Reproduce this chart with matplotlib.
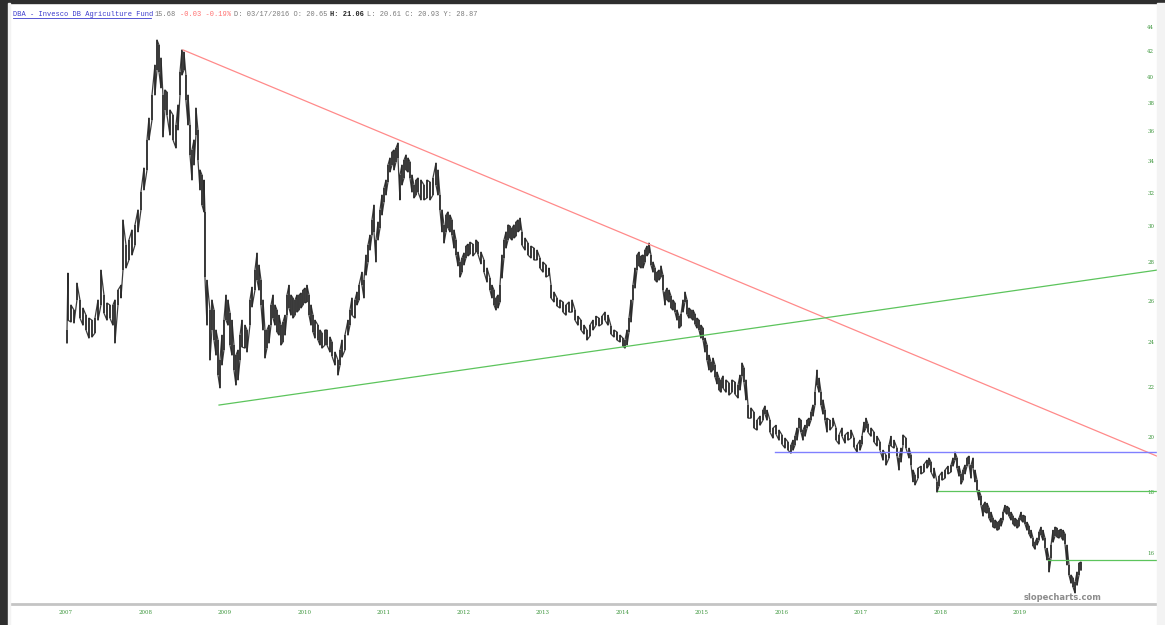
import matplotlib
matplotlib.use("Agg")
import matplotlib.pyplot as plt
from matplotlib.patches import Rectangle
from matplotlib.lines import Line2D
from matplotlib.ticker import FixedLocator, NullLocator, FixedFormatter

# DBA price history (decimal year, bar high, bar low)
dates = [
    2007.013, 2007.025, 2007.063, 2007.101, 2007.138, 2007.176, 2007.214, 2007.252, 2007.289, 2007.327,
    2007.365, 2007.403, 2007.440, 2007.478, 2007.516, 2007.553, 2007.591, 2007.616, 2007.654, 2007.692,
    2007.717, 2007.755, 2007.792, 2007.830, 2007.868, 2007.906, 2007.943, 2007.981, 2008.019, 2008.044,
    2008.082, 2008.119, 2008.145, 2008.170, 2008.195, 2008.220, 2008.245, 2008.270, 2008.308, 2008.346,
    2008.384, 2008.409, 2008.434, 2008.459, 2008.484, 2008.509, 2008.535, 2008.560, 2008.585, 2008.610,
    2008.635, 2008.660, 2008.686, 2008.711, 2008.736, 2008.748, 2008.774, 2008.811, 2008.836, 2008.862,
    2008.887, 2008.912, 2008.937, 2008.962, 2008.987, 2009.013, 2009.038, 2009.063, 2009.088, 2009.113,
    2009.138, 2009.164, 2009.189, 2009.214, 2009.252, 2009.277, 2009.314, 2009.340, 2009.377, 2009.403,
    2009.428, 2009.453, 2009.478, 2009.503, 2009.528, 2009.553, 2009.579, 2009.604, 2009.629, 2009.654,
    2009.679, 2009.704, 2009.730, 2009.755, 2009.780, 2009.805, 2009.830, 2009.855, 2009.881, 2009.906,
    2009.931, 2009.956, 2009.981, 2010.006, 2010.031, 2010.057, 2010.082, 2010.107, 2010.132, 2010.170,
    2010.195, 2010.220, 2010.258, 2010.283, 2010.321, 2010.346, 2010.384, 2010.421, 2010.447, 2010.472,
    2010.509, 2010.547, 2010.572, 2010.597, 2010.635, 2010.660, 2010.686, 2010.723, 2010.748, 2010.774,
    2010.799, 2010.824, 2010.849, 2010.874, 2010.899, 2010.925, 2010.950, 2010.975, 2011.000, 2011.025,
    2011.050, 2011.075, 2011.101, 2011.126, 2011.151, 2011.176, 2011.201, 2011.226, 2011.252, 2011.277,
    2011.302, 2011.327, 2011.352, 2011.377, 2011.403, 2011.428, 2011.465, 2011.503, 2011.541, 2011.579,
    2011.616, 2011.654, 2011.679, 2011.704, 2011.730, 2011.755, 2011.780, 2011.805, 2011.830, 2011.855,
    2011.881, 2011.906, 2011.931, 2011.956, 2011.981, 2012.006, 2012.031, 2012.057, 2012.082, 2012.119,
    2012.157, 2012.182, 2012.220, 2012.258, 2012.296, 2012.333, 2012.358, 2012.384, 2012.409, 2012.434,
    2012.459, 2012.484, 2012.509, 2012.535, 2012.560, 2012.585, 2012.610, 2012.635, 2012.660, 2012.686,
    2012.711, 2012.736, 2012.774, 2012.811, 2012.849, 2012.887, 2012.925, 2012.962, 2013.000, 2013.038,
    2013.075, 2013.101, 2013.138, 2013.176, 2013.214, 2013.252, 2013.289, 2013.327, 2013.365, 2013.403,
    2013.440, 2013.478, 2013.516, 2013.553, 2013.591, 2013.629, 2013.667, 2013.704, 2013.742, 2013.780,
    2013.818, 2013.855, 2013.893, 2013.931, 2013.969, 2014.006, 2014.031, 2014.057, 2014.082, 2014.107,
    2014.132, 2014.157, 2014.182, 2014.208, 2014.233, 2014.258, 2014.283, 2014.308, 2014.333, 2014.358,
    2014.384, 2014.409, 2014.434, 2014.459, 2014.484, 2014.509, 2014.535, 2014.560, 2014.585, 2014.610,
    2014.635, 2014.660, 2014.686, 2014.711, 2014.736, 2014.761, 2014.786, 2014.811, 2014.836, 2014.862,
    2014.887, 2014.912, 2014.937, 2014.962, 2014.987, 2015.013, 2015.038, 2015.063, 2015.088, 2015.113,
    2015.138, 2015.164, 2015.189, 2015.214, 2015.239, 2015.264, 2015.302, 2015.340, 2015.377, 2015.415,
    2015.453, 2015.478, 2015.503, 2015.528, 2015.553, 2015.579, 2015.616, 2015.654, 2015.692, 2015.730,
    2015.767, 2015.792, 2015.818, 2015.855, 2015.893, 2015.931, 2015.969, 2016.006, 2016.044, 2016.082,
    2016.119, 2016.145, 2016.170, 2016.195, 2016.220, 2016.245, 2016.270, 2016.296, 2016.321, 2016.346,
    2016.371, 2016.396, 2016.421, 2016.447, 2016.472, 2016.497, 2016.522, 2016.547, 2016.572, 2016.610,
    2016.648, 2016.686, 2016.723, 2016.761, 2016.799, 2016.836, 2016.874, 2016.912, 2016.950, 2016.987,
    2017.013, 2017.038, 2017.063, 2017.088, 2017.126, 2017.164, 2017.201, 2017.239, 2017.277, 2017.314,
    2017.352, 2017.377, 2017.415, 2017.453, 2017.478, 2017.503, 2017.528, 2017.566, 2017.604, 2017.629,
    2017.654, 2017.679, 2017.717, 2017.755, 2017.792, 2017.830, 2017.855, 2017.881, 2017.918, 2017.956,
    2017.981, 2018.019, 2018.057, 2018.094, 2018.132, 2018.157, 2018.182, 2018.208, 2018.233, 2018.258,
    2018.283, 2018.308, 2018.333, 2018.358, 2018.384, 2018.409, 2018.434, 2018.459, 2018.484, 2018.509,
    2018.535, 2018.560, 2018.585, 2018.610, 2018.635, 2018.660, 2018.686, 2018.711, 2018.736, 2018.761,
    2018.786, 2018.811, 2018.836, 2018.862, 2018.887, 2018.912, 2018.937, 2018.962, 2018.987, 2019.013,
    2019.038, 2019.063, 2019.088, 2019.113, 2019.138, 2019.164, 2019.189, 2019.214, 2019.239, 2019.264,
    2019.289, 2019.314, 2019.340, 2019.365, 2019.390, 2019.415, 2019.440, 2019.465, 2019.491, 2019.516,
    2019.541, 2019.566, 2019.591, 2019.616, 2019.642, 2019.667, 2019.692, 2019.717, 2019.742, 2019.767,
]

highs = [
    24.57, 27.41, 25.78, 25.53, 26.89, 26.03, 25.63, 25.28, 25.14, 25.04,
    25.14, 26.03, 27.57, 26.28, 25.88, 25.78, 25.78, 26.03, 26.53, 26.78,
    30.36, 28.93, 29.21, 29.78, 30.07, 30.95, 32.03, 33.55, 35.41, 36.93,
    38.60, 40.89, 42.91, 42.50, 41.45, 38.60, 38.98, 38.83, 37.51, 37.15,
    36.44, 37.87, 40.35, 42.10, 41.93, 40.11, 38.60, 36.44, 34.73, 35.41,
    37.65, 36.09, 33.42, 33.10, 32.78, 30.83, 27.04, 25.53, 26.03, 25.53,
    24.57, 24.10, 23.19, 24.33, 25.04, 26.28, 26.03, 25.38, 25.04, 23.87,
    23.41, 23.64, 24.33, 25.04, 24.80, 24.57, 26.03, 26.68, 27.57, 28.49,
    27.84, 27.04, 26.03, 24.57, 24.57, 24.80, 25.78, 26.28, 25.78, 25.53,
    25.28, 24.80, 24.95, 25.28, 26.28, 26.78, 26.28, 26.13, 26.03, 26.28,
    26.28, 26.38, 26.53, 26.63, 26.78, 26.28, 25.78, 25.28, 25.04, 24.80,
    24.57, 24.43, 24.57, 24.57, 24.24, 24.01, 23.55, 23.19, 23.64, 24.10,
    24.33, 25.04, 25.53, 26.13, 26.03, 26.43, 26.78, 27.46, 27.04, 28.38,
    28.93, 29.49, 30.36, 31.24, 29.21, 30.24, 30.95, 31.85, 32.28, 32.78,
    33.74, 34.20, 34.60, 34.73, 34.86, 35.20, 33.10, 33.74, 34.07, 34.40,
    34.20, 33.94, 33.10, 32.47, 32.78, 32.91, 32.78, 32.47, 32.78, 32.66,
    32.91, 33.87, 33.42, 31.85, 30.95, 30.07, 30.65, 30.83, 30.65, 30.36,
    29.78, 29.21, 28.54, 28.00, 28.22, 28.49, 28.87, 28.98, 29.09, 28.98,
    29.21, 29.09, 28.54, 28.11, 27.68, 27.15, 26.78, 26.53, 26.13, 26.28,
    26.78, 28.38, 29.21, 29.67, 30.07, 30.01, 29.89, 30.07, 30.24, 30.36,
    30.47, 29.67, 29.32, 29.04, 28.87, 28.76, 28.65, 28.22, 28.00, 27.84,
    27.68, 26.78, 26.43, 26.13, 26.03, 25.93, 25.78, 25.93, 26.03, 25.53,
    25.23, 25.04, 24.80, 24.57, 24.80, 25.04, 25.23, 25.14, 25.23, 25.43,
    25.28, 24.76, 24.57, 24.48, 24.33, 24.19, 24.10, 24.57, 25.14, 26.03,
    26.78, 27.68, 28.38, 28.54, 28.33, 28.38, 28.65, 28.87, 29.04, 28.38,
    28.00, 27.68, 27.46, 27.57, 27.79, 27.30, 26.43, 26.63, 26.53, 26.23,
    26.03, 25.88, 25.53, 25.23, 25.33, 26.03, 26.43, 26.03, 25.63, 25.53,
    25.53, 25.33, 25.14, 25.04, 24.80, 24.66, 24.19, 23.87, 23.41, 23.10,
    23.28, 22.97, 22.66, 22.40, 22.32, 22.49, 22.32, 22.19, 22.32, 22.23,
    22.10, 22.53, 23.06, 22.84, 22.32, 21.27, 21.15, 20.98, 20.66, 20.82,
    21.06, 21.23, 21.06, 20.66, 20.35, 20.46, 20.27, 20.08, 19.96, 19.81,
    19.69, 19.88, 20.03, 20.35, 20.74, 20.66, 20.27, 20.46, 20.66, 20.74,
    20.98, 21.27, 21.80, 22.75, 22.40, 21.80, 21.48, 21.06, 20.74, 20.66,
    20.74, 20.35, 20.08, 20.35, 20.08, 20.19, 20.27, 19.96, 19.69, 19.88,
    20.03, 20.58, 20.74, 20.50, 20.35, 20.19, 20.03, 19.81, 19.50, 19.32,
    19.69, 20.03, 19.88, 19.58, 19.21, 19.58, 20.08, 19.96, 19.58, 19.32,
    18.77, 18.59, 18.84, 18.91, 18.98, 19.13, 19.21, 19.06, 18.84, 18.35,
    18.55, 18.70, 18.77, 18.91, 18.95, 19.21, 19.43, 19.21, 18.91, 18.63,
    18.77, 18.95, 19.21, 19.28, 18.95, 19.21, 18.77, 18.41, 18.06, 17.86,
    17.54, 17.65, 17.61, 17.45, 17.31, 17.11, 17.05, 16.98, 17.01, 17.11,
    17.31, 17.54, 17.51, 17.45, 17.31, 17.18, 17.11, 17.05, 17.11, 17.31,
    17.21, 17.18, 16.98, 16.85, 16.72, 16.47, 16.34, 16.47, 16.66, 16.82,
    16.72, 16.47, 16.15, 15.85, 16.25, 16.72, 16.82, 16.79, 16.72, 16.75,
    16.72, 16.60, 16.25, 15.64, 15.34, 15.25, 15.13, 15.43, 15.70, 15.73,
]

lows = [
    23.96, 25.04, 24.95, 24.90, 26.03, 25.14, 24.80, 24.57, 24.19, 24.24,
    24.43, 25.04, 25.78, 25.38, 25.04, 25.14, 24.80, 23.96, 25.78, 26.13,
    27.57, 27.68, 28.11, 28.38, 28.93, 29.67, 30.95, 32.16, 33.42, 35.41,
    36.79, 38.60, 40.50, 40.35, 39.13, 35.61, 37.51, 37.15, 35.74, 35.41,
    34.86, 36.09, 38.60, 40.11, 40.50, 38.23, 36.44, 34.40, 32.78, 33.74,
    35.74, 34.07, 32.16, 31.24, 30.83, 27.20, 24.80, 23.19, 24.57, 24.10,
    23.41, 22.53, 21.98, 22.97, 23.64, 25.04, 24.80, 23.87, 23.41, 22.75,
    22.10, 22.32, 23.19, 23.78, 23.73, 23.55, 24.80, 25.68, 26.53, 27.04,
    26.53, 25.78, 24.57, 23.28, 23.73, 23.96, 24.80, 25.14, 24.80, 24.48,
    24.33, 23.87, 24.01, 24.33, 25.28, 25.63, 25.28, 25.14, 25.28, 25.43,
    25.53, 25.63, 25.78, 25.88, 25.93, 25.28, 24.80, 24.48, 24.19, 24.10,
    23.87, 23.73, 23.87, 23.87, 23.55, 23.37, 22.97, 22.53, 22.97, 23.32,
    23.64, 24.33, 24.80, 25.28, 25.14, 25.78, 26.03, 26.78, 26.13, 27.30,
    28.00, 28.65, 29.49, 29.67, 28.00, 29.21, 29.89, 30.65, 31.42, 31.85,
    32.66, 33.29, 33.74, 33.42, 33.94, 34.20, 31.55, 32.47, 32.91, 33.42,
    33.29, 32.91, 32.03, 31.67, 31.85, 32.03, 31.55, 31.55, 31.67, 31.55,
    31.85, 32.47, 31.85, 30.95, 29.67, 29.04, 29.67, 29.89, 29.67, 29.49,
    28.76, 28.38, 27.79, 27.20, 27.46, 27.84, 28.22, 28.33, 28.43, 28.33,
    28.54, 28.43, 27.90, 27.46, 26.94, 26.53, 26.13, 25.78, 25.53, 25.63,
    25.93, 27.15, 28.22, 28.76, 29.21, 29.32, 29.21, 29.32, 29.43, 29.67,
    29.78, 28.93, 28.65, 28.38, 28.22, 28.11, 28.11, 27.68, 27.46, 27.20,
    27.30, 26.13, 25.93, 25.73, 25.63, 25.43, 25.28, 25.43, 25.43, 25.04,
    24.80, 24.57, 24.38, 24.10, 24.29, 24.57, 24.80, 24.76, 24.85, 25.04,
    24.80, 24.38, 24.24, 24.10, 24.01, 23.82, 23.73, 23.87, 24.48, 24.95,
    26.03, 26.63, 27.57, 27.79, 27.68, 27.68, 28.00, 28.33, 28.49, 27.84,
    27.46, 27.04, 26.94, 27.04, 27.20, 26.53, 25.78, 26.03, 25.93, 25.63,
    25.53, 25.43, 25.04, 24.66, 24.76, 25.43, 25.93, 25.33, 25.14, 25.14,
    25.04, 24.85, 24.66, 24.57, 24.19, 24.10, 23.55, 23.19, 22.75, 22.66,
    22.75, 22.45, 22.15, 21.89, 21.80, 21.98, 21.80, 21.68, 21.80, 21.72,
    21.56, 21.89, 22.49, 22.23, 21.48, 20.74, 20.74, 20.35, 20.27, 20.46,
    20.66, 20.90, 20.66, 20.19, 19.96, 20.11, 19.88, 19.73, 19.58, 19.50,
    19.39, 19.50, 19.69, 19.88, 20.35, 20.19, 19.88, 20.03, 20.35, 20.43,
    20.66, 20.82, 21.27, 22.10, 21.80, 21.27, 20.90, 20.66, 20.19, 20.27,
    20.43, 19.88, 19.73, 20.03, 19.77, 19.88, 19.96, 19.62, 19.43, 19.50,
    19.73, 20.19, 20.35, 20.19, 20.03, 19.81, 19.66, 19.50, 19.13, 18.95,
    19.21, 19.66, 19.58, 19.28, 18.77, 19.06, 19.69, 19.58, 19.21, 18.95,
    18.35, 18.24, 18.48, 18.63, 18.70, 18.84, 18.95, 18.70, 18.48, 17.99,
    18.20, 18.41, 18.48, 18.63, 18.70, 18.91, 19.13, 18.84, 18.55, 18.27,
    18.41, 18.63, 18.91, 18.98, 18.48, 18.84, 18.35, 18.06, 17.72, 17.54,
    17.18, 17.31, 17.28, 17.11, 16.98, 16.82, 16.79, 16.72, 16.75, 16.85,
    17.05, 17.31, 17.24, 17.18, 17.05, 16.92, 16.85, 16.79, 16.85, 17.05,
    16.98, 16.92, 16.72, 16.60, 16.47, 16.22, 16.12, 16.25, 16.40, 16.57,
    16.40, 16.15, 15.79, 15.43, 15.85, 16.34, 16.53, 16.50, 16.47, 16.50,
    16.40, 16.28, 15.64, 15.34, 15.10, 14.99, 14.82, 15.04, 15.34, 15.48,
]

# drawn trendlines and levels: (start date, start price, end date, end price)
resistance = (2008.472, 42.10, 2020.723, 19.28)
support = (2008.925, 21.27, 2020.723, 27.57)
blue_level = (2015.918, 19.43)
green_levels = [(2017.969, 18.03), (2019.352, 15.79)]

year_ticks = list(range(2007, 2020))
price_ticks = [16, 18, 20, 22, 24, 26, 28, 30, 32, 34, 36, 38, 40, 42, 44]

header_parts = [
    ("DBA - Invesco DB Agriculture Fund", 0, "#3a3acc", "normal"),
    ("15.68", 34, "#7a7a7a", "normal"),
    ("-0.03 -0.19%", 40, "#ff7070", "normal"),
    ("D: 03/17/2016 O: 20.65", 53, "#7a7a7a", "normal"),
    ("H: 21.06", 76, "#222222", "bold"),
    ("L: 20.61 C: 20.93 Y: 28.87", 85, "#7a7a7a", "normal"),
]

W, H = 1165, 625
fig = plt.figure(figsize=(W / 100, H / 100), dpi=100)
fig.patch.set_facecolor("white")

x_end = 2020.723
ax = fig.add_axes([10 / W, 21 / H, 1147 / W, 584 / H])
ax.set_yscale("log")
ax.set_xlim(2006.296, x_end)
ax.set_ylim(14.51, 44.59)

# price bars, joined as a zigzag low-high-high-low...
zx, zy = [], []
for i, (d, hi, lo) in enumerate(zip(dates, highs, lows)):
    zx += [d, d]
    zy += [lo, hi] if i % 2 == 0 else [hi, lo]
ax.plot(zx, zy, color="#3c3c3c", lw=0.9)
ax.vlines(dates, lows, highs, color="#262626", lw=1.1)

# trendlines
ax.plot([resistance[0], resistance[2]], [resistance[1], resistance[3]], color="#ff8a8a", lw=0.9)
ax.plot([support[0], support[2]], [support[1], support[3]], color="#5cc45c", lw=0.9)
ax.plot([blue_level[0], x_end], [blue_level[1], blue_level[1]], color="#8080ff", lw=1.0)
for d, p in green_levels:
    ax.plot([d, x_end], [p, p], color="#5cc45c", lw=0.9)

for s in ["top", "right", "left"]:
    ax.spines[s].set_visible(False)
ax.spines["bottom"].set_color("#c4c4c4")
ax.spines["bottom"].set_linewidth(2)

ax.xaxis.set_major_locator(FixedLocator(year_ticks))
ax.set_xticklabels([str(y) for y in year_ticks])
ax.tick_params(axis="x", length=0, pad=4, labelsize=4, labelcolor="#3c963c")
for t in ax.get_xticklabels():
    t.set_family("DejaVu Serif")

ax.yaxis.tick_right()
ax.yaxis.set_major_locator(FixedLocator(price_ticks))
ax.yaxis.set_major_formatter(FixedFormatter([str(p) for p in price_ticks]))
ax.yaxis.set_minor_locator(NullLocator())
ax.tick_params(axis="y", length=0, pad=-7, labelsize=4, labelcolor="#3c963c")
for t in ax.get_yticklabels():
    t.set_family("DejaVu Serif")

fig.text(1063 / W, 1 - 597 / H, "slopecharts.com", ha="center", va="center",
         fontsize=6, fontweight="bold", color="#8c8c8c")

# page frame
fig.patches.append(Rectangle((0, 0), 8 / W, 1, transform=fig.transFigure, color="#2e2e2e", zorder=0))
fig.patches.append(Rectangle((0, 1 - 3 / H), 1, 3 / H, transform=fig.transFigure, color="#2e2e2e", zorder=0))
fig.patches.append(Rectangle((8 / W, 0), 2 / W, 1 - 3 / H, transform=fig.transFigure, color="#f3f3f3", zorder=0))
fig.patches.append(Rectangle((1157 / W, 0), 8 / W, 1 - 3 / H, transform=fig.transFigure, color="#f3f3f3", zorder=0))

# header line
char_w = 4.17
for txt, col, c, wt in header_parts:
    fig.text((13 + col * char_w) / W, 1 - 14 / H, txt, ha="left", va="center", fontsize=5,
             family="Liberation Mono", color=c, fontweight=wt)
fig.add_artist(Line2D([13 / W, (13 + 33 * char_w) / W], [1 - 18 / H, 1 - 18 / H],
                      transform=fig.transFigure, color="#3a3acc", lw=0.6))

fig.savefig("out.png", dpi=100)
